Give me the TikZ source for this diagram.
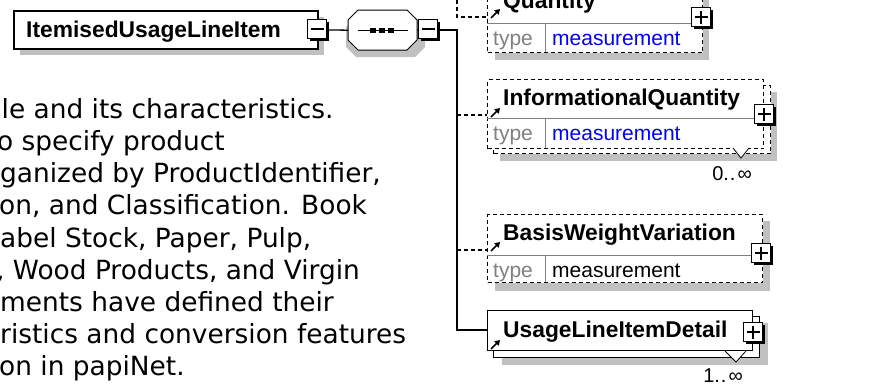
\documentclass[tikz,border=0pt]{standalone}
\usepackage{fontspec}
\setmainfont{Liberation Sans}
\newfontfamily\descfont{DejaVu Sans}
\usetikzlibrary{arrows.meta}
\definecolor{shd}{RGB}{192,192,192}
\definecolor{sepgray}{RGB}{128,128,128}
\definecolor{typegray}{RGB}{128,128,128}
\definecolor{mblue}{RGB}{0,0,255}
\newcommand\xbox[4]{%
  \fill[black] (#2+3,#3+3) rectangle (#2+22,#3+22);
  \node[draw=black, fill=white, line width=1pt, inner sep=0pt, minimum width=19pt, minimum height=19pt, anchor=north west] (#1) at (#2,#3) {};
  \draw[line width=1.3pt] ([xshift=3.5pt]#1.west) -- ([xshift=-3.5pt]#1.east);
  \ifnum#4=1 \draw[line width=1.3pt] ([yshift=-3.5pt]#1.north) -- ([yshift=3.5pt]#1.south);\fi
}
\begin{document}
\begin{tikzpicture}[x=1pt,y=-1pt,
  elbox/.style={draw=black, fill=white, line width=1pt, inner sep=0pt, anchor=north west},
  optbox/.style={elbox, dash pattern=on 4pt off 3pt},
  elname/.style={font=\fontsize{22.8}{24}\selectfont\bfseries, anchor=base west, inner sep=0pt},
  typelbl/.style={font=\fontsize{21}{23}\selectfont, text=typegray, anchor=base west, inner sep=0pt},
  typeval/.style={font=\fontsize{21}{23}\selectfont, anchor=base west, inner sep=0pt},
  desc/.style={font=\descfont\fontsize{26.4}{30}\selectfont, anchor=base west, inner sep=0pt},
  mult/.style={font=\fontsize{20}{22}\selectfont, anchor=base, inner sep=0pt},
  conn/.style={line width=1.3pt, black},
  optconn/.style={line width=1.1pt, black, dash pattern=on 4pt off 3pt},
  sepline/.style={draw=sepgray, line width=1pt},
  icon/.style={line width=1.7pt, -{Triangle[length=5pt,width=6pt]}},
  rep/.style={fill=white, draw=black, line width=0.8pt},
]
\useasboundingbox (0,0) rectangle (877,383);
\clip (0,0) rectangle (877,383);
\fill[white] (0,0) rectangle (877,383);

% description text
\node[desc] (d1) at (1.5,118) {le and its characteristics.};
\node[desc] (d2) at (-3,150) {o specify product};
\node[desc] (d3) at (0,182) {ganized by ProductIdentifier,};
\node[desc] (d4) at (-1,214) {on, and Classification. Book};
\node[desc] (d5) at (0,247) {abel Stock, Paper, Pulp,};
\node[desc] (d6) at (-4,279) {, Wood Products, and Virgin};
\node[desc] (d7) at (0,311) {ments have defined their};
\node[desc] (d8) at (0,343) {ristics and conversion features};
\node[desc] (d9) at (-1,375) {on in papiNet.};

% shadows
\fill[shd] (20,17) rectangle (324,55);
\fill[shd] (356,17) -- (415,17) -- (425,27) -- (425,47) -- (415,57) -- (356,57) -- (346,47) -- (346,27) -- cycle;
\fill[shd] (495,-10) rectangle (709,60);
\fill[shd] (500,92) rectangle (777,161);
\fill[shd] (495,221) rectangle (770,291);
\fill[shd] (502,323) rectangle (768,365);

% trunk coordinates
\coordinate (trtop) at (457,0);
\coordinate (tq) at (457,17);
\coordinate (tr0) at (457,30);
\coordinate (ti) at (457,115);
\coordinate (tb) at (457,250);
\coordinate (tu) at (457,330);

% main element
\node[elbox, line width=1.6pt, minimum width=304pt, minimum height=38pt] (main) at (13,10) {};
\node[elname] (mainlbl) at (26,37) {ItemisedUsageLineItem};

% sequence compositor
\node[inner sep=0pt, minimum width=69pt, minimum height=40pt, anchor=north west] (seq) at (348,10) {};
\filldraw[fill=white, draw=black, line width=1pt] (358,10) -- (407,10) -- (417,20) -- (417,40) -- (407,50) -- (358,50) -- (348,40) -- (348,20) -- cycle;
\draw[line width=1pt] (358,30) -- (408,30);
\fill[black] (370,28) rectangle (376,33);
\fill[black] (379,28) rectangle (385,33);
\fill[black] (388,28) rectangle (394,33);

% child boxes
\node[optbox, minimum width=215pt, minimum height=68pt] (quant) at (487,-16) {};
\node[optbox, minimum width=277pt, minimum height=68pt] (infqb) at (493,85) {};
\node[optbox, minimum width=276pt, minimum height=69pt] (infq) at (487,79) {};
\node[optbox, minimum width=275pt, minimum height=68pt] (bwv) at (487,214) {};
\node[elbox, minimum width=266pt, minimum height=41pt] (ulidb) at (493,316) {};
\node[elbox, minimum width=265pt, minimum height=40pt] (ulid) at (487,310) {};

% separators and dividers
\draw[sepline] (quant.west |- 0,23) -- (quant.east |- 0,23);
\draw[sepline] (545,23) -- (545,52);
\draw[sepline] (infq.west |- 0,118) -- (infq.east |- 0,118);
\draw[sepline] (545,118) -- (545,148);
\draw[sepline] (bwv.west |- 0,255) -- (bwv.east |- 0,255);
\draw[sepline] (545,255) -- (545,282);

% repetition marks
\filldraw[rep] (733,148) -- (741,158) -- (749,148);
\filldraw[rep] (725,351) -- (736,362) -- (746,351);

% labels
\node[elname] (qlbl) at (503,8) {Quantity};
\node[typelbl] (qt) at (493,45) {type};
\node[typeval, text=mblue] (qv) at (552,45) {measurement};
\node[elname] (ilbl) at (503,105) {InformationalQuantity};
\node[typelbl] (it) at (493,140) {type};
\node[typeval, text=mblue] (iv) at (552,140) {measurement};
\node[elname] (blbl) at (503,240) {BasisWeightVariation};
\node[typelbl] (bt) at (493,277) {type};
\node[typeval] (bv) at (552,277) {measurement};
\node[elname] (ulbl) at (503,337) {UsageLineItemDetail};
\node[mult] (m1) at (732,180) {0.\kern1pt.\kern2pt∞};
\node[mult] (m2) at (723,382) {1.\kern1pt.\kern2pt∞};

% connectors
\draw[conn] (main.east) -- (seq.west);
\draw[conn] (seq.east) -- (418,30);
\draw[conn] (440,30) -- (tr0) -- (tu) -- (ulid.west |- tu);
\draw[optconn] (trtop) -- (tq) -- (quant.west |- tq);
\draw[optconn] (ti) -- (infq.west |- ti);
\draw[optconn] (tb) -- (bwv.west |- tb);

% expand/collapse boxes
\xbox{mminus}{307}{19}{0}
\xbox{sminus}{418}{19}{0}
\xbox{qplus}{691}{7}{1}
\xbox{iplus}{754}{104}{1}
\xbox{bplus}{751}{243}{1}
\xbox{uplus}{743}{322}{1}

% icons
\draw[icon] (491,18) -- (500,9);
\draw[icon] (491,117) -- (500,108);
\draw[icon] (491,251) -- (500,242);
\draw[icon] (491,349) -- (500,340);
\end{tikzpicture}
\end{document}
